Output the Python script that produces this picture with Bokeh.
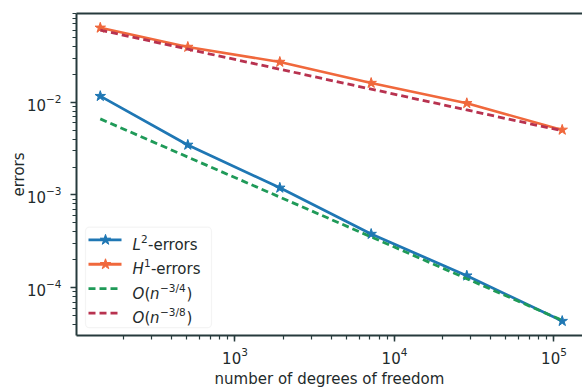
import numpy as np
from bokeh.plotting import figure
from bokeh.models import (Range1d, LogAxis, FixedTicker, BoxAnnotation, Label,
                          LogTickFormatter)
from bokeh.embed import file_html
from bokeh.resources import INLINE

# Convergence data: degrees of freedom vs. errors
dofs = [143, 506, 1910, 7140, 28400, 112600]
l2_errors = [1.165e-2, 3.47e-3, 1.194e-3, 3.79e-4, 1.347e-4, 4.36e-5]
h1_errors = [6.36e-2, 3.95e-2, 2.72e-2, 1.612e-2, 9.76e-3, 5.04e-3]
# reference slopes O(n^-3/4) and O(n^-3/8)
rate_l2 = [6.62e-3, 2.566e-3, 9.49e-4, 3.53e-4, 1.249e-4, 4.44e-5]
rate_h1 = [6.01e-2, 3.742e-2, 2.274e-2, 1.387e-2, 8.26e-3, 4.93e-3]

X_START, X_END = 10 ** 2.0063, 10 ** 5.1787
Y_START, Y_END = 10 ** -4.5158, 10 ** -1.0421

W, H = 582, 390
FRAME_L, FRAME_R, FRAME_T, FRAME_B = 76, 582, 13, 343

AX = "#263a3c"
TXT = "#1f2b2c"
FONT = "DejaVu Sans"
BLUE = "#1f77b4"
ORANGE = "#f0683c"
GREEN = "#1f9a58"
CRIMSON = "#b8324f"

p = figure(width=W, height=H, x_axis_type="log", y_axis_type="log",
           x_range=Range1d(X_START, X_END), y_range=Range1d(Y_START, Y_END),
           output_backend="svg", toolbar_location=None,
           min_border_left=FRAME_L, min_border_right=W - FRAME_R,
           min_border_top=FRAME_T, min_border_bottom=H - FRAME_B)
p.outline_line_color = None
p.xgrid.visible = False
p.ygrid.visible = False
p.background_fill_color = "white"
p.border_fill_color = "white"

for ax in (p.xaxis[0], p.yaxis[0]):
    ax.formatter = LogTickFormatter()
    ax.axis_line_color = AX
    ax.axis_line_width = 2
    ax.major_tick_line_color = AX
    ax.minor_tick_line_color = AX
    ax.major_tick_line_width = 1.5
    ax.minor_tick_line_width = 1.2
    ax.major_tick_in = 0
    ax.minor_tick_in = 0
    ax.major_tick_out = 6
    ax.minor_tick_out = 4
    ax.major_label_text_font = FONT
    ax.major_label_text_font_size = "15px"
    ax.major_label_text_color = TXT
    ax.axis_label_text_font = FONT
    ax.axis_label_text_font_size = "15px"
    ax.axis_label_text_font_style = "normal"
    ax.axis_label_text_color = TXT

p.xaxis.axis_label = "number of degrees of freedom"
p.yaxis.axis_label = "errors"
p.xaxis.major_label_standoff = 5
p.xaxis.axis_label_standoff = 3
p.yaxis.major_label_standoff = 9
p.yaxis.axis_label_standoff = -4

# plain top spine
top = LogAxis(ticker=FixedTicker(ticks=[]), axis_line_color=AX, axis_line_width=2,
              major_tick_line_color=None, minor_tick_line_color=None,
              major_label_text_font_size="0px")
p.add_layout(top, "above")

# error curves
p.line(dofs, l2_errors, line_color=BLUE, line_width=2.8)
p.scatter(dofs, l2_errors, marker="star", size=11, fill_color=BLUE, line_color=BLUE)
p.line(dofs, h1_errors, line_color=ORANGE, line_width=2.6)
p.scatter(dofs, h1_errors, marker="star", size=11, fill_color=ORANGE, line_color=ORANGE)
p.line(dofs, rate_l2, line_color=GREEN, line_width=2.8, line_dash="7 4")
p.line(dofs, rate_h1, line_color=CRIMSON, line_width=2.8, line_dash="7 4")


# legend laid out in pixels, converted to the log-log data space
def sx(px):
    a, b = np.log10(X_START), np.log10(X_END)
    return 10 ** (a + (px - FRAME_L) / (FRAME_R - FRAME_L) * (b - a))


def sy(py):
    a, b = np.log10(Y_START), np.log10(Y_END)
    return 10 ** (b - (py - FRAME_T) / (FRAME_B - FRAME_T) * (b - a))


p.add_layout(BoxAnnotation(left=sx(85), right=sx(211), top=sy(232), bottom=sy(335),
                           fill_color="white", fill_alpha=0.85, level="underlay",
                           line_color="#d9d9d9", line_width=1.2, border_radius=4))

rows = [245, 270, 295, 320]
entries = [(BLUE, "solid", True), (ORANGE, "solid", True),
           (GREEN, "7 4", False), (CRIMSON, "7 4", False)]
for py, (col, dash, star) in zip(rows, entries):
    p.line([sx(88), sx(121)], [sy(py), sy(py)], line_color=col, line_width=2.8,
           line_dash=dash)
    if star:
        p.scatter([sx(105)], [sy(py)], marker="star", size=11, fill_color=col, line_color=col)


def piece(px, py, text, size=15, italic=False, raise_px=0):
    p.add_layout(Label(x=sx(px), y=sy(py + 5 - raise_px), text=text,
                       text_font=FONT, text_font_size=f"{size}px",
                       text_font_style="italic" if italic else "normal",
                       text_color=TXT, text_baseline="alphabetic", text_align="left"))


TX = 132
piece(TX, rows[0], "L", italic=True)
piece(TX + 8.6, rows[0], "2", size=10.5, raise_px=6)
piece(TX + 15.5, rows[0], "-errors")

piece(TX, rows[1], "H", italic=True)
piece(TX + 11.5, rows[1], "1", size=10.5, raise_px=6)
piece(TX + 18.4, rows[1], "-errors")

for py, frac in ((rows[2], "\u22123/4"), (rows[3], "\u22123/8")):
    piece(TX, py, "O", italic=True)
    piece(TX + 12, py, "(")
    piece(TX + 17.5, py, "n", italic=True)
    piece(TX + 27.5, py, frac, size=10.5, raise_px=6)
    piece(TX + 54, py, ")")

open("out.html", "w").write(file_html(p, INLINE))
